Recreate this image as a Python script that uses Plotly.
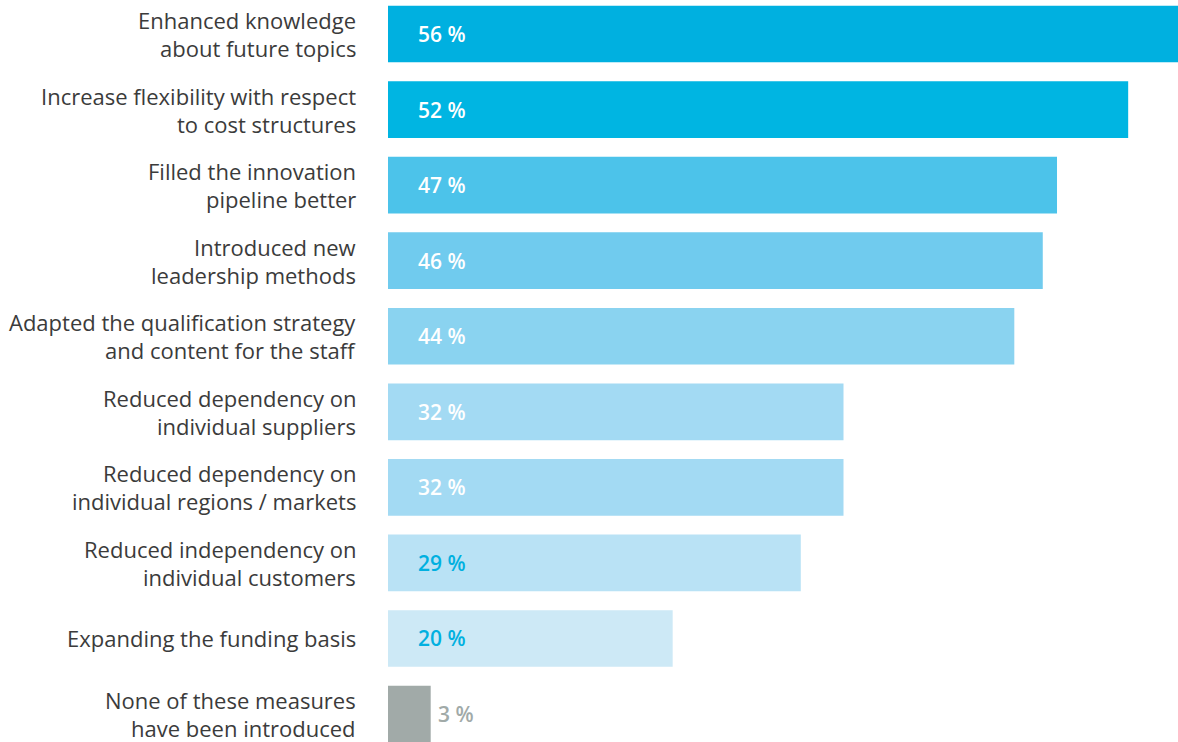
import plotly.graph_objects as go

# Survey results: measures introduced (share of respondents, %)
labels = [
    ["Enhanced knowledge", "about future topics"],
    ["Increase flexibility with respect", "to cost structures"],
    ["Filled the innovation", "pipeline better"],
    ["Introduced new", "leadership methods"],
    ["Adapted the qualification strategy", "and content for the staff"],
    ["Reduced dependency on", "individual suppliers"],
    ["Reduced dependency on", "individual regions / markets"],
    ["Reduced independency on", "individual customers"],
    ["Expanding the funding basis"],
    ["None of these measures", "have been introduced"],
]
values = [56, 52, 47, 46, 44, 32, 32, 29, 20, 3]
bar_colors = ["#00b0e0", "#00b5e2", "#4cc3ea", "#70cbee", "#8ad3f0",
              "#a3daf3", "#a3daf3", "#b9e2f5", "#cde9f6", "#a1aaa8"]
value_colors = ["#ffffff"] * 7 + ["#00b0e0", "#00b0e0", "#a1aaa8"]

pos = list(range(len(values)))

fig = go.Figure(go.Bar(
    x=values, y=pos, orientation="h",
    marker=dict(color=bar_colors, line=dict(width=0)),
    hoverinfo="skip",
))

annotations = []
for i, (lines, v) in enumerate(zip(labels, values)):
    n = len(lines)
    for j, line in enumerate(lines):
        offset = (j - (n - 1) / 2) * 28
        annotations.append(dict(
            x=0, y=i, xref="x", yref="y", text=line, showarrow=False,
            xanchor="right", yanchor="middle", xshift=-30, yshift=-offset,
            font=dict(family="Open Sans", size=22, color="#3b3b3b"),
        ))
    inside = v > 10
    annotations.append(dict(
        x=0 if inside else v, y=i, xref="x", yref="y",
        text=f"{v} %", showarrow=False,
        xanchor="left", yanchor="middle", xshift=28 if inside else 5,
        font=dict(family="Open Sans", size=21, weight=600, color=value_colors[i]),
    ))

fig.update_layout(
    width=1178, height=742,
    margin=dict(l=388, r=0, t=0, b=0),
    paper_bgcolor="white", plot_bgcolor="white",
    bargap=0.25, showlegend=False,
    xaxis=dict(range=[0, 55.5], visible=False, fixedrange=True),
    yaxis=dict(range=[9.37, -0.45], visible=False, fixedrange=True),
    annotations=annotations,
)

fig.write_html("out.html")
